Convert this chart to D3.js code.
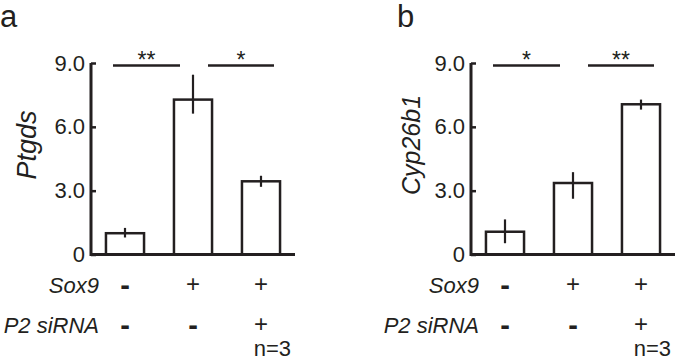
<!DOCTYPE html>
<html>
<head>
<meta charset="utf-8">
<script src="https://cdn.jsdelivr.net/npm/d3@7"></script>
<style>
  body { margin: 0; background: #fff; }
  text { font-family: "Liberation Sans", Arial, sans-serif; fill: #231f20; }
</style>
</head>
<body>
<div id="chart"></div>
<script>
// data ------------------------------------------------------------------
const conditions = ['c1', 'c2', 'c3'];
const sox9Row = ['-', '+', '+'];
const sirnaRow = ['-', '-', '+'];
const yTicks = [0, 3, 6, 9];

const ptgdsMean = [1.0, 7.28, 3.44];
const ptgdsHi = [1.25, 8.45, 3.70];
const ptgdsLo = [0.80, 6.62, 3.18];
const ptgdsSig = [{ from: 0, to: 1, label: '**' }, { from: 1, to: 2, label: '*' }];

const cypMean = [1.07, 3.36, 7.06];
const cypHi = [1.65, 3.87, 7.28];
const cypLo = [0.53, 2.62, 6.81];
const cypSig = [{ from: 0, to: 1, label: '*' }, { from: 1, to: 2, label: '**' }];

// svg -------------------------------------------------------------------
const width = 675, height = 361;
const ink = '#231f20';
const svg = d3.select('#chart').append('svg')
  .attr('width', width)
  .attr('height', height);

const yScale = d3.scaleLinear().domain([0, 9]).range([254.5, 63]);

const panel = (opt) => {
  const g = svg.append('g');
  const xScale = d3.scaleBand()
    .domain(conditions)
    .range([opt.x0, opt.x0 + 204])
    .paddingInner(0.44)
    .paddingOuter(0.22);
  const cx = i => xScale(conditions[i]) + xScale.bandwidth() / 2;

  // panel letter
  g.append('text')
    .attr('x', opt.letterX).attr('y', 27)
    .attr('font-size', '31px')
    .text(opt.letter);

  // bars
  g.selectAll('.bar')
    .data(opt.mean)
    .enter().append('rect')
    .attr('x', (d, i) => xScale(conditions[i]))
    .attr('y', d => yScale(d))
    .attr('width', xScale.bandwidth())
    .attr('height', d => yScale(0) - yScale(d))
    .attr('fill', '#fff')
    .attr('stroke', ink)
    .attr('stroke-width', 2.5);

  // error bars
  g.selectAll('.err')
    .data(opt.mean)
    .enter().append('line')
    .attr('x1', (d, i) => cx(i))
    .attr('x2', (d, i) => cx(i))
    .attr('y1', (d, i) => yScale(opt.hi[i]))
    .attr('y2', (d, i) => yScale(opt.lo[i]))
    .attr('stroke', ink)
    .attr('stroke-width', 2.2);

  // y axis
  const yAxis = d3.axisRight(yScale)
    .tickValues(yTicks)
    .tickSize(5)
    .tickFormat(d => d === 0 ? '0' : d3.format('.1f')(d));
  const ya = g.append('g')
    .attr('transform', 'translate(' + opt.x0 + ',0)')
    .call(yAxis);
  ya.select('.domain').remove();
  ya.selectAll('line').attr('stroke', ink).attr('stroke-width', 2.5);
  ya.selectAll('text')
    .attr('x', -6)
    .attr('text-anchor', 'end')
    .attr('font-size', '22px')
    .attr('font-family', '"Liberation Sans", Arial, sans-serif')
    .attr('fill', ink);

  // axis lines
  g.append('path')
    .attr('d', d3.line()([[opt.x0, yScale(9)], [opt.x0, yScale(0)], [opt.x0 + 204, yScale(0)]]))
    .attr('fill', 'none')
    .attr('stroke', ink)
    .attr('stroke-width', 3);

  // y label
  g.append('text')
    .attr('transform', 'translate(' + opt.labelX + ',' + 145 + ') rotate(-90)')
    .attr('text-anchor', 'middle')
    .attr('font-size', opt.labelSize)
    .attr('font-style', 'italic')
    .text(opt.label);

  // significance (left line shifted left, right line shifted right)
  const sx1 = (d, i) => cx(d.from) + (i === 0 ? -12 : 15);
  const sx2 = (d, i) => cx(d.to) + (i === 0 ? -13 : 13);
  const sig = g.selectAll('.sig').data(opt.sig).enter().append('g');
  sig.append('line')
    .attr('x1', sx1)
    .attr('x2', sx2)
    .attr('y1', 65.5).attr('y2', 65.5)
    .attr('stroke', ink)
    .attr('stroke-width', 2.5);
  sig.append('text')
    .attr('x', (d, i) => (sx1(d, i) + sx2(d, i)) / 2)
    .attr('y', 68)
    .attr('text-anchor', 'middle')
    .attr('font-size', '23px')
    .text(d => d.label);

  // condition table
  const rows = [{ name: 'Sox9', vals: sox9Row, y: 293 }, { name: 'P2 siRNA', vals: sirnaRow, y: 333 }];
  rows.forEach(r => {
    g.append('text')
      .attr('x', opt.x0 + 8).attr('y', r.y)
      .attr('text-anchor', 'end')
      .attr('font-size', '22px')
      .attr('font-style', 'italic')
      .text(r.name);
    g.selectAll(null)
      .data(r.vals)
      .enter().append('text')
      .attr('x', (d, i) => cx(i))
      .attr('y', d => d === '-' ? r.y + 2 : r.y - 1)
      .attr('text-anchor', 'middle')
      .attr('font-size', d => d === '-' ? '29px' : '24px')
      .attr('font-weight', d => d === '-' ? 'bold' : 'normal')
      .text(d => d);
  });
  g.append('text')
    .attr('x', opt.x0 + 200)
    .attr('y', 356)
    .attr('text-anchor', 'end')
    .attr('font-size', '22px')
    .text('n=3');
};

panel({ x0: 91, letter: 'a', letterX: 0, label: 'Ptgds', labelSize: '27px', labelX: 36, mean: ptgdsMean, hi: ptgdsHi, lo: ptgdsLo, sig: ptgdsSig });
panel({ x0: 471, letter: 'b', letterX: 397, label: 'Cyp26b1', labelSize: '25px', labelX: 420, mean: cypMean, hi: cypHi, lo: cypLo, sig: cypSig });
</script>
</body>
</html>
